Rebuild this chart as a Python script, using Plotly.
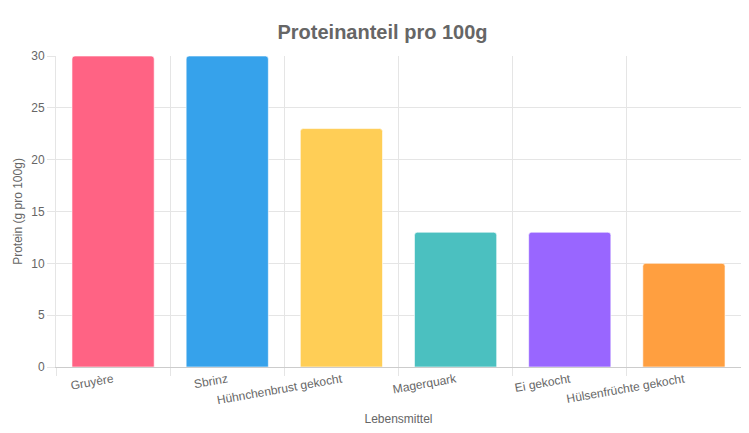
import plotly.graph_objects as go

foods = ["Gruyère", "Sbrinz", "Hühnchenbrust gekocht", "Magerquark", "Ei gekocht", "Hülsenfrüchte gekocht"]
protein = [30, 30, 23, 13, 13, 10]
colors = ["#FF6384", "#36A2EB", "#FFCE56", "#4BC0C0", "#9966FF", "#FF9F40"]

fig = go.Figure(go.Bar(
    x=foods, y=protein,
    marker=dict(color=colors, line=dict(color="rgba(255,255,255,0.6)", width=1), cornerradius=3),
    width=0.72,
))

fig.update_layout(
    width=749, height=433,
    margin=dict(l=48, r=16, t=48, b=74, autoexpand=False),
    plot_bgcolor="white", paper_bgcolor="white",
    font=dict(family="Liberation Sans, Arial", size=12, color="#666"),
    title=dict(text="<b>Proteinanteil pro 100g</b>", x=0.5, y=0.96, xanchor="center",
               font=dict(size=20, color="#666")),
    showlegend=False,
)
fig.update_xaxes(title=dict(text="Lebensmittel", font=dict(size=12), standoff=8), tickangle=-10,
                 tickson="boundaries", showgrid=True, gridcolor="#e5e5e5",
                 showline=True, linecolor="#ccc", ticks="outside", ticklen=8, tickcolor="#e5e5e5")
fig.update_yaxes(title=dict(text="Protein (g pro 100g)", font=dict(size=12), standoff=6), range=[0, 30],
                 dtick=5, gridcolor="#e5e5e5", showline=True, linecolor="#e5e5e5",
                 ticks="outside", ticklen=8, tickcolor="#e5e5e5", zeroline=False)

fig.write_html("out.html")
